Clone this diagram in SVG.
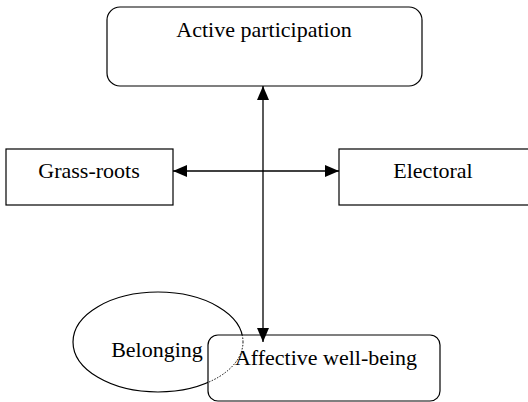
<svg xmlns="http://www.w3.org/2000/svg" width="528" height="402" viewBox="0 0 528 402">
<style>
.box{fill:none;stroke:#000;stroke-width:1.2}
.lbl{font-family:"Liberation Serif","Times New Roman",serif;font-size:22px;fill:#000;text-anchor:middle}
.conn{stroke:#000;stroke-width:1.3;fill:none}
</style>
<defs>
<marker id="ah" viewBox="0 0 14 12" refX="14" refY="6" markerWidth="14" markerHeight="12" markerUnits="userSpaceOnUse" orient="auto-start-reverse">
<path d="M0,0 L14,6 L0,12 Z" fill="#000"/>
</marker>
<clipPath id="inBox"><rect x="208" y="335" width="232" height="66" rx="10"/></clipPath>
<clipPath id="outBox"><path d="M0,0 H528 V402 H0 Z M208,335 V401 H440 V335 Z" clip-rule="evenodd"/></clipPath>
</defs>
<rect width="528" height="402" fill="#fff"/>
<g id="active-participation">
<rect class="box" x="107" y="7" width="315" height="79" rx="13"/>
<text class="lbl" x="264" y="37">Active participation</text>
</g>
<g id="grass-roots">
<rect class="box" x="6" y="149" width="167" height="56"/>
<text class="lbl" x="89" y="178">Grass-roots</text>
</g>
<g id="electoral">
<rect class="box" x="339" y="149" width="200" height="56"/>
<text class="lbl" x="433" y="178">Electoral</text>
</g>
<g id="belonging">
<ellipse class="box" cx="158" cy="342" rx="85" ry="50" clip-path="url(#outBox)"/>
<ellipse cx="158" cy="342" rx="85" ry="50" fill="none" stroke="#000" stroke-width="1" stroke-dasharray="1.5,1.5" clip-path="url(#inBox)"/>
<text class="lbl" x="157" y="357">Belonging</text>
</g>
<g id="affective-well-being">
<rect class="box" x="208" y="335" width="232" height="66" rx="10"/>
<text class="lbl" x="326" y="365">Affective well-being</text>
</g>
<g id="connectors">
<line class="conn" x1="263" y1="86" x2="263" y2="342" marker-start="url(#ah)" marker-end="url(#ah)"/>
<line class="conn" x1="173" y1="171" x2="339" y2="171" marker-start="url(#ah)" marker-end="url(#ah)"/>
</g>
</svg>
